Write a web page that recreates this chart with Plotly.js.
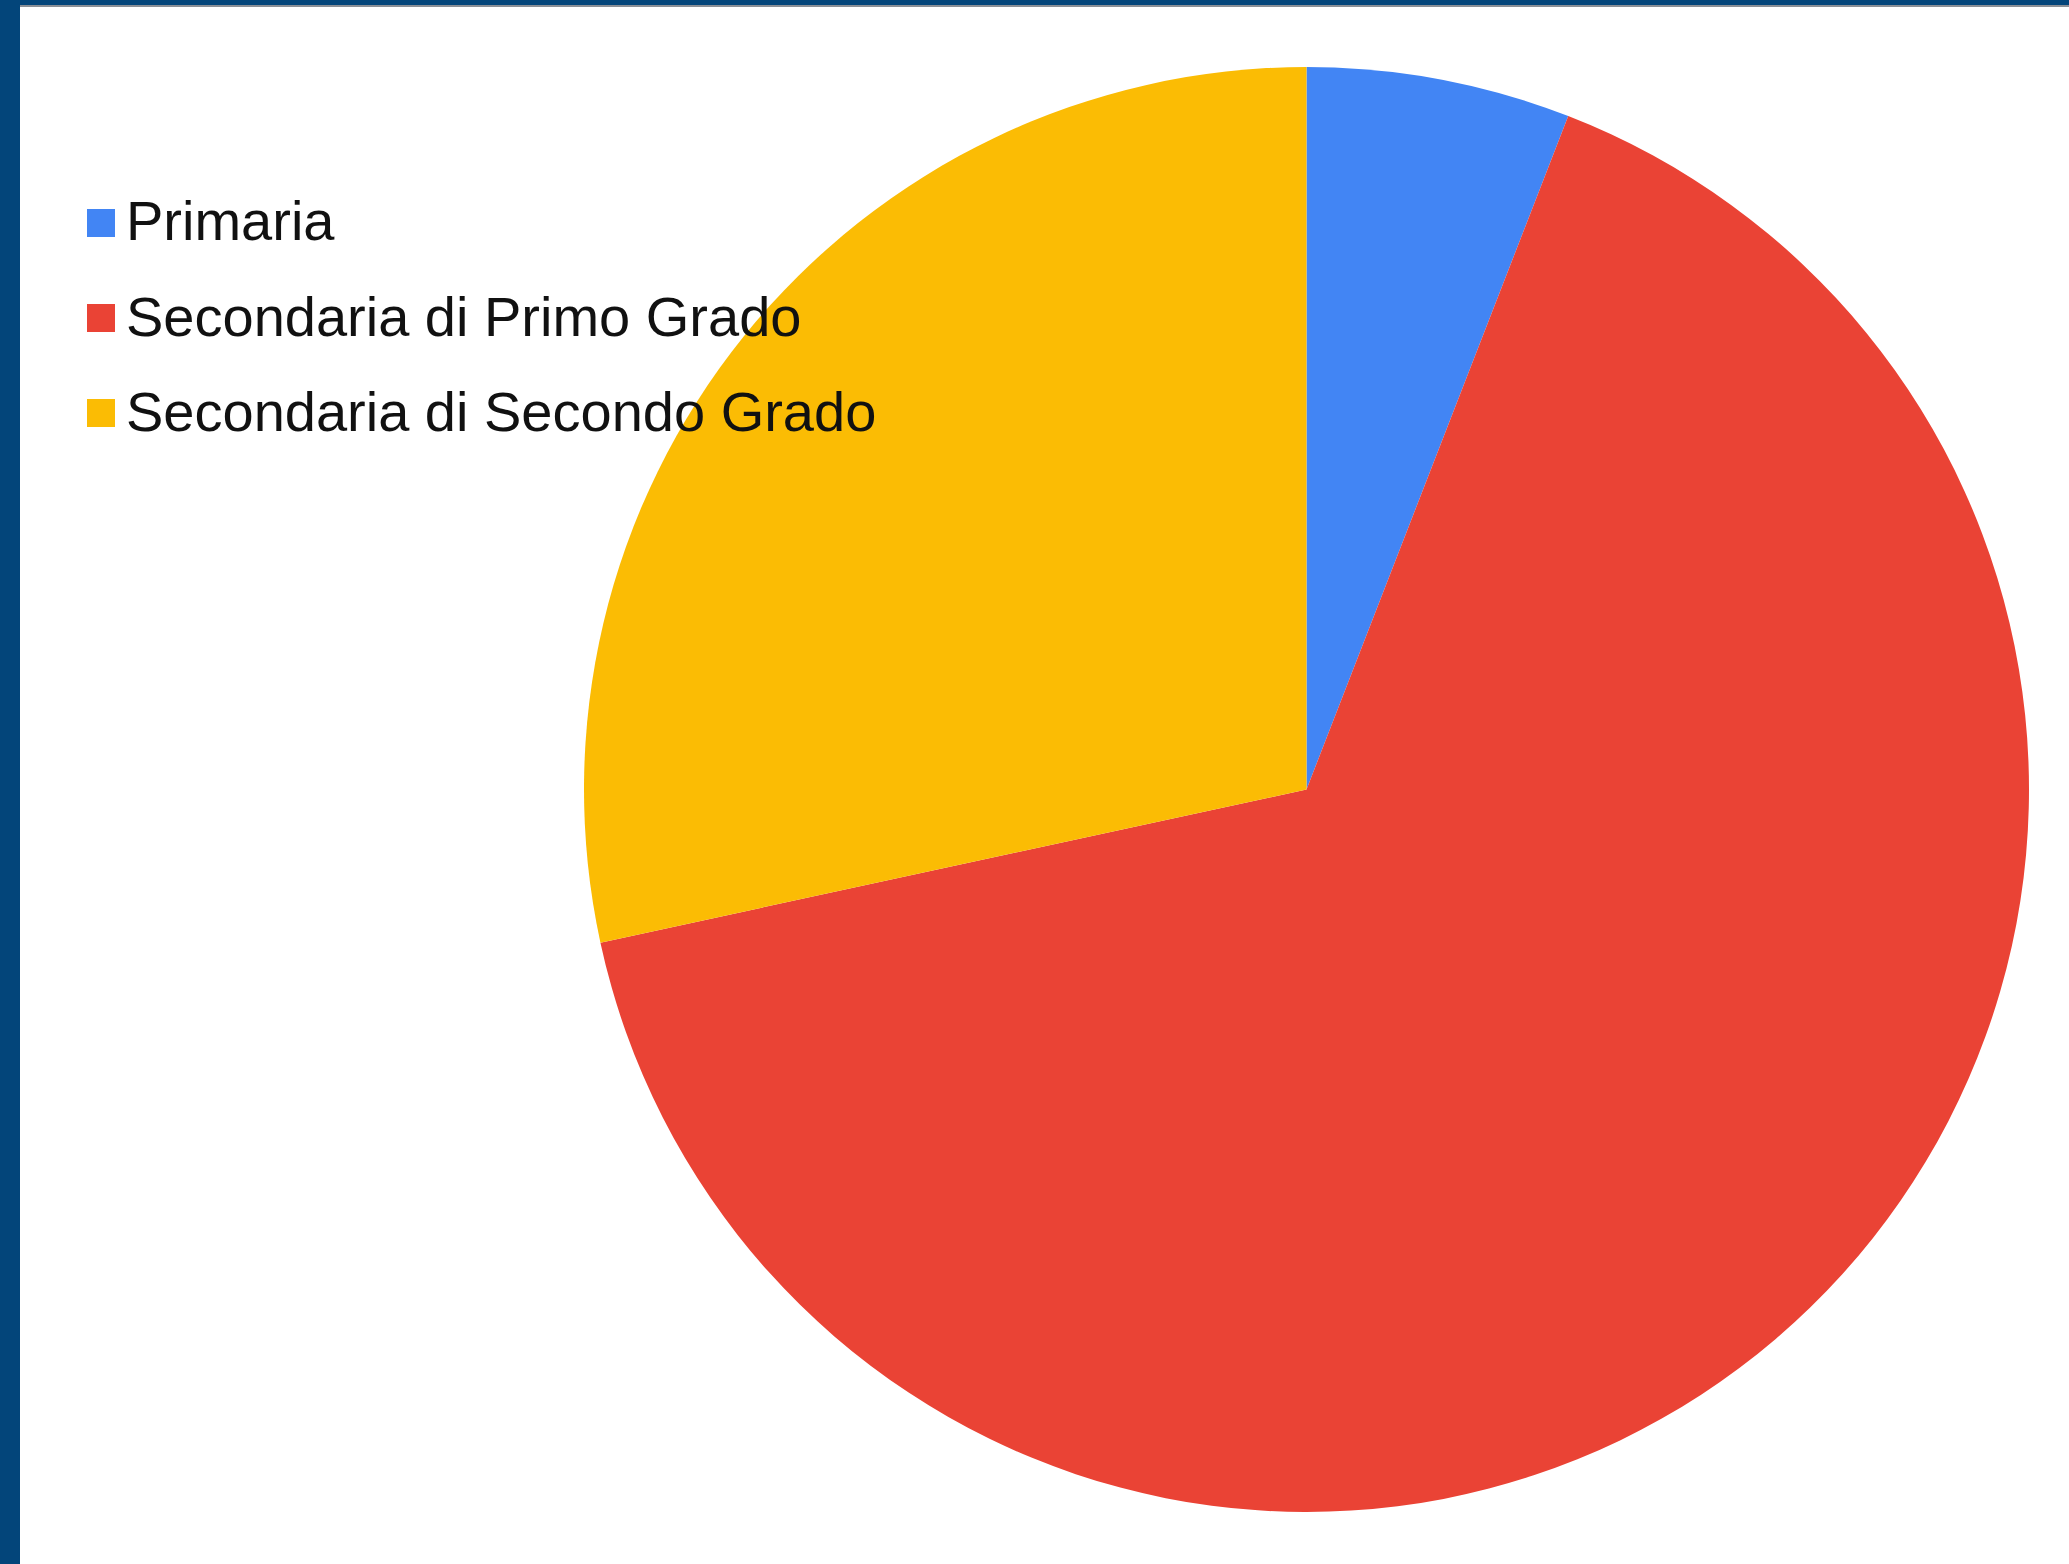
<!DOCTYPE html>
<html>
<head>
<meta charset="utf-8">
<script src="https://cdn.plot.ly/plotly-3.0.1.min.js"></script>
<style>
html,body{margin:0;padding:0;background:#ffffff;overflow:hidden;}
#chart{width:2069px;height:1564px;}
</style>
</head>
<body>
<div id="chart"></div>
<script>
// Data
const labels = ["Primaria", "Secondaria di Primo Grado", "Secondaria di Secondo Grado"];
const values = [5.9, 65.7, 28.4];
const colors = ["#4285f4", "#ea4335", "#fbbc04"];

const W = 2069, H = 1564;
const px = x => x / W;
const py = y => 1 - y / H;

// pie geometry (pixels)
const cx = 1306.5, cy = 789.5, R = 722.5;

const shapes = [
  // left frame bar
  {type:'rect', xref:'paper', yref:'paper', x0:0, x1:px(20), y0:0, y1:1, fillcolor:'#03457a', line:{width:0}, layer:'above'},
  // top frame bar
  {type:'rect', xref:'paper', yref:'paper', x0:0, x1:1, y0:py(5), y1:1, fillcolor:'#03457a', line:{width:0}, layer:'above'},
  {type:'rect', xref:'paper', yref:'paper', x0:px(20), x1:1, y0:py(7), y1:py(5), fillcolor:'#8a8f96', line:{width:0}, layer:'above'}
];
const annotations = [];
const rowY0 = 223, rowStep = 95, sq = 28;
labels.forEach((lab, i) => {
  const yc = rowY0 + i * rowStep;
  shapes.push({type:'rect', xref:'paper', yref:'paper',
    x0:px(87), x1:px(87 + sq), y0:py(yc + sq/2), y1:py(yc - sq/2),
    fillcolor:colors[i], line:{width:0}});
  annotations.push({xref:'paper', yref:'paper', x:px(124), y:py(yc - 2),
    xanchor:'left', yanchor:'middle', showarrow:false, text:lab,
    font:{family:'"Liberation Sans", Arial, sans-serif', size:56, color:'#111111'}});
});

const trace = {
  type:'pie',
  labels: labels,
  values: values,
  sort:false,
  direction:'clockwise',
  rotation:0,
  textinfo:'none',
  hoverinfo:'label+percent',
  marker:{colors:colors, line:{width:0}},
  domain:{x:[px(cx - R), px(cx + R)], y:[py(cy + R), py(cy - R)]},
  showlegend:false
};

const layout = {
  width:W, height:H,
  margin:{l:0, r:0, t:0, b:0, pad:0},
  paper_bgcolor:'#ffffff',
  plot_bgcolor:'#ffffff',
  showlegend:false,
  shapes:shapes,
  annotations:annotations,
  font:{family:'"Liberation Sans", Arial, sans-serif'}
};

Plotly.newPlot('chart', [trace], layout, {displayModeBar:false, staticPlot:true});
</script>
</body>
</html>
